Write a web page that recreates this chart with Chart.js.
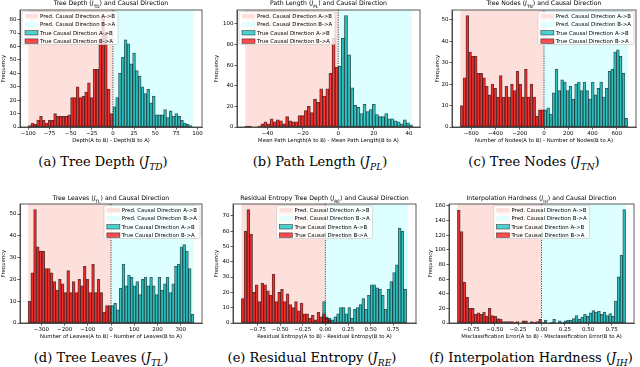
<!DOCTYPE html>
<html>
<head>
<meta charset="utf-8">
<script src="https://cdn.jsdelivr.net/npm/chart.js@4.4.0/dist/chart.umd.min.js"></script>
<style>
body { margin: 0; width: 640px; height: 367px; position: relative; background: #fff; overflow: hidden; font-family: "DejaVu Sans"; }
canvas { position: absolute; }
.ttl { position: absolute; font-size: 6.2px; white-space: nowrap; transform: translate(-50%, -50%); color: #000; }
.ttl sub { font-size: 70%; }
.cap { position: absolute; font-family: "DejaVu Serif"; font-size: 13px; white-space: nowrap; transform: translate(-50%, -50%); color: #000; }
.cap sub { font-size: 70%; font-style: italic; }
</style>
</head>
<body>
<script>
// (a) tree depth histogram
var depthBin = 3.3333, depthRedFrom = -100, depthCyanFrom = 0;
var depthRed = [1, 3, 2, 5, 8, 5, 3, 5, 5, 10, 8, 8, 8, 8, 9, 22, 22, 30, 22, 23, 26, 33, 22, 43, 43, 65, 83, 70, 28, 10];
var depthCyan = [15, 22, 40, 52, 65, 62, 47, 55, 42, 38, 30, 25, 28, 18, 23, 9, 9, 9, 13, 7, 12, 8, 10, 8, 5, 3, 2, 1];
var depthSpan = [-100, 95.5];
var depthXRange = [-109.8, 105.3];
var depthXTicks = [-100, -75, -50, -25, 0, 25, 50, 75, 100];
var depthYTicks = [0, 10, 20, 30, 40, 50, 60, 70, 80];
var depthYMax = 87.2;

// (b) path length
var pathBin = 1.75, pathRedFrom = -52.5, pathCyanFrom = 0;
var pathRed = [1, 1, 0, 0, 1, 3, 5, 3, 8, 5, 7, 6, 3, 10, 6, 5, 5, 11, 11, 16, 20, 14, 27, 24, 37, 30, 37, 52, 86, 58];
var pathCyan = [59, 86, 108, 70, 38, 21, 19, 13, 22, 15, 17, 22, 12, 10, 10, 13, 8, 8, 6, 5, 3, 7, 4, 2];
var pathSpan = [-52.5, 41.5];
var pathXRange = [-57.2, 46.2];
var pathXTicks = [-40, -20, 0, 20, 40];
var pathYTicks = [0, 20, 40, 60, 80, 100];
var pathYMax = 113.4;

// (c) tree nodes
var nodesBin = 23, nodesRedFrom = -690, nodesCyanFrom = 0;
var nodesRed = [10, 23, 52, 35, 33, 33, 25, 25, 23, 19, 15, 20, 18, 14, 24, 14, 19, 14, 20, 17, 26, 20, 14, 27, 14, 20, 14, 5, 8, 8];
var nodesCyan = [8, 9, 6, 16, 27, 17, 22, 21, 17, 19, 13, 20, 21, 17, 21, 17, 13, 21, 15, 18, 21, 14, 18, 26, 27, 35, 36, 33, 25, 4];
var nodesSpan = [-690, 690];
var nodesXRange = [-759, 759];
var nodesXTicks = [-600, -400, -200, 0, 200, 400, 600];
var nodesYTicks = [0, 10, 20, 30, 40, 50];
var nodesYMax = 54.6;

// (d) tree leaves
var leavesBin = 11.9, leavesRedFrom = -357, leavesCyanFrom = 0;
var leavesRed = [10, 23, 52, 35, 33, 33, 25, 25, 23, 19, 15, 20, 18, 14, 24, 14, 19, 14, 20, 17, 26, 20, 14, 27, 14, 20, 14, 5, 8, 8];
var leavesCyan = [8, 9, 6, 16, 27, 17, 22, 21, 17, 19, 13, 20, 21, 17, 21, 17, 13, 21, 15, 18, 21, 14, 18, 26, 27, 35, 36, 33, 25, 4];
var leavesSpan = [-357, 357];
var leavesXRange = [-392, 392];
var leavesXTicks = [-300, -200, -100, 0, 100, 200, 300];
var leavesYTicks = [0, 10, 20, 30, 40, 50];
var leavesYMax = 54.6;

// (e) residual entropy
var entropyBin = 0.031, entropyRedFrom = -0.93, entropyCyanFrom = -0.031;
var entropyRed = [16, 60, 74, 58, 20, 25, 14, 26, 25, 21, 18, 32, 14, 20, 22, 14, 19, 12, 10, 14, 8, 13, 6, 6, 3, 5, 2, 7, 4, 6, 3, 2];
var entropyCyan = [14, 4, 3, 2, 4, 6, 10, 10, 6, 10, 3, 9, 10, 12, 16, 9, 18, 25, 25, 23, 22, 18, 9, 22, 27, 33, 38, 62, 60, 22];
var entropySpan = [-0.93, 0.91];
var entropyXRange = [-1.022, 1.002];
var entropyXTicks = [-0.75, -0.5, -0.25, 0, 0.25, 0.5, 0.75];
var entropyYTicks = [0, 10, 20, 30, 40, 50, 60, 70];
var entropyYMax = 77.7;

// (f) interpolation hardness
var hardBin = 0.03, hardRedFrom = -0.9, hardCyanFrom = 0;
var hardRed = [154, 125, 56, 35, 20, 20, 12, 14, 12, 15, 9, 20, 10, 9, 6, 5, 2, 2, 2, 2, 1, 2, 0, 3, 3, 0, 2, 1, 2, 5];
var hardCyan = [1, 4, 0, 1, 5, 0, 3, 1, 3, 4, 4, 6, 10, 5, 8, 12, 9, 14, 17, 15, 16, 12, 15, 10, 13, 9, 30, 63, 93, 155];
var hardSpan = [-0.9, 0.9];
var hardXRange = [-0.99, 0.99];
var hardXTicks = [-0.75, -0.5, -0.25, 0, 0.25, 0.5, 0.75];
var hardYTicks = [0, 20, 40, 60, 80, 100, 120, 140, 160];
var hardYMax = 162.7;

var legendLabels = ['Pred. Causal Direction A->B', 'Pred. Causal Direction B->A', 'True Causal Direction A->B', 'True Causal Direction B->A'];

var predAB = 'rgb(253, 224, 220)';
var predBA = 'rgb(221, 255, 255)';
var trueAB = 'rgba(0, 191, 191, 0.7)';
var trueBA = 'rgba(255, 0, 0, 0.7)';
var edge = 'rgba(0, 0, 0, 0.7)';
var axisCol = '#333';
var FONT = '"DejaVu Sans"';

var panels = [
    { name: 'Tree Depth', sub: 'TD', tag: '(a)', xTitle: 'Depth(A to B) - Depth(B to A)',
      red: depthRed, cyan: depthCyan, bin: depthBin, redFrom: depthRedFrom, cyanFrom: depthCyanFrom,
      span: depthSpan, xRange: depthXRange, xTicks: depthXTicks, yTicks: depthYTicks, yMax: depthYMax, dec: 0,
      box: [0, 0, 212, 144], area: [20, 10, 202, 127], legend: 'left', cap: [103, 163] },
    { name: 'Path Length', sub: 'PL', tag: '(b)', xTitle: 'Mean Path Length(A to B) - Mean Path Length(B to A)',
      red: pathRed, cyan: pathCyan, bin: pathBin, redFrom: pathRedFrom, cyanFrom: pathCyanFrom,
      span: pathSpan, xRange: pathXRange, xTicks: pathXTicks, yTicks: pathYTicks, yMax: pathYMax, dec: 0,
      box: [213, 0, 212, 144], area: [237, 10, 420, 127], legend: 'left', cap: [320, 163] },
    { name: 'Tree Nodes', sub: 'TN', tag: '(c)', xTitle: 'Number of Nodes(A to B) - Number of Nodes(B to A)',
      red: nodesRed, cyan: nodesCyan, bin: nodesBin, redFrom: nodesRedFrom, cyanFrom: nodesCyanFrom,
      span: nodesSpan, xRange: nodesXRange, xTicks: nodesXTicks, yTicks: nodesYTicks, yMax: nodesYMax, dec: 0,
      box: [434, 0, 206, 144], area: [452, 10, 636, 127], legend: 'right', cap: [534, 163] },
    { name: 'Tree Leaves', sub: 'TL', tag: '(d)', xTitle: 'Number of Leaves(A to B) - Number of Leaves(B to A)',
      red: leavesRed, cyan: leavesCyan, bin: leavesBin, redFrom: leavesRedFrom, cyanFrom: leavesCyanFrom,
      span: leavesSpan, xRange: leavesXRange, xTicks: leavesXTicks, yTicks: leavesYTicks, yMax: leavesYMax, dec: 0,
      box: [0, 190, 212, 150], area: [20, 204, 202, 323], legend: 'right', cap: [101, 359] },
    { name: 'Residual Entropy Tree Depth', capName: 'Residual Entropy', sub: 'RE', tag: '(e)', xTitle: 'Residual Entropy(A to B) - Residual Entropy(B to A)',
      red: entropyRed, cyan: entropyCyan, bin: entropyBin, redFrom: entropyRedFrom, cyanFrom: entropyCyanFrom,
      span: entropySpan, xRange: entropyXRange, xTicks: entropyXTicks, yTicks: entropyYTicks, yMax: entropyYMax, dec: 2,
      box: [213, 190, 212, 150], area: [233, 204, 416, 323], legend: 'center', cap: [312, 359] },
    { name: 'Interpolation Hardness', sub: 'IH', tag: '(f)', xTitle: 'Misclassification Error(A to B) - Misclassification Error(B to A)',
      red: hardRed, cyan: hardCyan, bin: hardBin, redFrom: hardRedFrom, cyanFrom: hardCyanFrom,
      span: hardSpan, xRange: hardXRange, xTicks: hardXTicks, yTicks: hardYTicks, yMax: hardYMax, dec: 2,
      box: [427, 190, 213, 150], area: [449, 204, 634, 323], legend: 'center', cap: [531, 359] }
];

function toPoints(heights, from, bin) {
    return heights.map(function(h, i) { return { x: from + (i + 0.5) * bin, y: h }; });
}

function tickFmt(dec) {
    return function(v) {
        var s = Math.abs(v).toFixed(dec);
        return (v < -1e-9 ? '\u2212' : '') + s;
    };
}

function drawLegend(c, a, mode) {
    c.save();
    c.font = '5.4px ' + FONT;
    var tw = 0;
    legendLabels.forEach(function(t) { tw = Math.max(tw, c.measureText(t).width); });
    var bw = tw + 21, bh = 33;
    var x = mode === 'left' ? a.left + 2 : mode === 'right' ? a.right - 2 - bw : (a.left + a.right) / 2 - bw / 2;
    var y = a.top + 1.5;
    c.fillStyle = 'rgba(255,255,255,0.8)';
    c.strokeStyle = '#cccccc';
    c.lineWidth = 0.7;
    c.beginPath();
    c.roundRect(x, y, bw, bh, 1.5);
    c.fill();
    c.stroke();
    var fills = [predAB, predBA, trueAB, trueBA];
    for (var i = 0; i < 4; i++) {
        var cy = y + 4.7 + i * 8.3;
        c.fillStyle = fills[i];
        c.fillRect(x + 3, cy - 2.2, 13, 4.4);
        if (i > 1) {
            c.strokeStyle = edge;
            c.lineWidth = 0.6;
            c.strokeRect(x + 3, cy - 2.2, 13, 4.4);
        }
        c.fillStyle = '#000';
        c.textBaseline = 'middle';
        c.fillText(legendLabels[i], x + 18, cy + 0.3);
    }
    c.restore();
}

function decor(p) {
    return {
        id: 'decor',
        beforeDatasetsDraw: function(chart) {
            var c = chart.ctx, a = chart.chartArea, xs = chart.scales.x;
            var x0 = xs.getPixelForValue(p.span[0]), xz = xs.getPixelForValue(0), x1 = xs.getPixelForValue(p.span[1]);
            c.save();
            c.fillStyle = predAB;
            c.fillRect(x0, a.top, xz - x0, a.bottom - a.top);
            c.fillStyle = predBA;
            c.fillRect(xz, a.top, x1 - xz, a.bottom - a.top);
            c.restore();
        },
        afterDatasetsDraw: function(chart) {
            var c = chart.ctx, a = chart.chartArea, xs = chart.scales.x;
            var xz = xs.getPixelForValue(0);
            c.save();
            c.strokeStyle = '#222';
            c.lineWidth = 0.8;
            c.setLineDash([1.2, 1.2]);
            c.beginPath();
            c.moveTo(xz, a.top);
            c.lineTo(xz, a.bottom);
            c.stroke();
            c.restore();
            drawLegend(c, a, p.legend);
            c.save();
            c.strokeStyle = axisCol;
            c.lineWidth = 0.8;
            c.strokeRect(a.left, a.top, a.right - a.left, a.bottom - a.top);
            c.restore();
        }
    };
}

function addText(cls, html, x, y) {
    var d = document.createElement('div');
    d.className = cls;
    d.innerHTML = html;
    d.style.left = x + 'px';
    d.style.top = y + 'px';
    document.body.appendChild(d);
}

panels.forEach(function(p) {
    var box = p.box, area = p.area;
    var cv = document.createElement('canvas');
    cv.width = box[2];
    cv.height = box[3];
    cv.style.left = box[0] + 'px';
    cv.style.top = box[1] + 'px';
    cv.style.width = box[2] + 'px';
    cv.style.height = box[3] + 'px';
    document.body.appendChild(cv);

    var yWidth = area[0] - box[0];
    var xHeight = box[1] + box[3] - area[3];
    var tickFont = { family: FONT, size: 5.5 };
    var titleFont = { family: FONT, size: 5.3 };

    new Chart(cv.getContext('2d'), {
        type: 'bar',
        data: {
            datasets: [
                { label: legendLabels[3], data: toPoints(p.red, p.redFrom, p.bin),
                  backgroundColor: trueBA, borderColor: edge, borderWidth: 0.7, borderSkipped: false,
                  barPercentage: 1, categoryPercentage: 1, grouped: false },
                { label: legendLabels[2], data: toPoints(p.cyan, p.cyanFrom, p.bin),
                  backgroundColor: trueAB, borderColor: edge, borderWidth: 0.7, borderSkipped: false,
                  barPercentage: 1, categoryPercentage: 1, grouped: false }
            ]
        },
        options: {
            responsive: false,
            animation: false,
            devicePixelRatio: 1,
            layout: { padding: { left: 0, top: area[1] - box[1], right: box[0] + box[2] - area[2], bottom: 0 } },
            plugins: { legend: { display: false }, tooltip: { enabled: false } },
            scales: {
                x: {
                    type: 'linear', min: p.xRange[0], max: p.xRange[1], offset: false,
                    grid: { drawOnChartArea: false, offset: false, tickLength: 2.5, color: axisCol, lineWidth: 0.8 },
                    border: { color: axisCol, width: 0.8 },
                    ticks: { font: tickFont, color: '#000', padding: 1, maxRotation: 0, autoSkip: false, callback: tickFmt(p.dec) },
                    title: { display: true, text: p.xTitle, font: titleFont, color: '#000', padding: 0 },
                    afterBuildTicks: function(s) { s.ticks = p.xTicks.map(function(v) { return { value: v }; }); },
                    afterFit: function(s) { s.height = xHeight; }
                },
                y: {
                    min: 0, max: p.yMax,
                    grid: { drawOnChartArea: false, tickLength: 2.5, color: axisCol, lineWidth: 0.8 },
                    border: { color: axisCol, width: 0.8 },
                    ticks: { font: tickFont, color: '#000', padding: 1, autoSkip: false, callback: tickFmt(0) },
                    title: { display: true, text: 'Frequency', font: titleFont, color: '#000', padding: 0 },
                    afterBuildTicks: function(s) { s.ticks = p.yTicks.map(function(v) { return { value: v }; }); },
                    afterFit: function(s) { s.width = yWidth; }
                }
            }
        },
        plugins: [decor(p)]
    });

    var cx = (area[0] + area[2]) / 2;
    var ty = box[1] === 0 ? 3.5 : 198.5;
    addText('ttl', p.name + ' (<i>J</i><sub>' + p.sub + '</sub>) and Causal Direction', cx, ty);
    addText('cap', p.tag + ' ' + (p.capName || p.name) + ' (<i>J</i><sub>' + p.sub + '</sub>)', p.cap[0], p.cap[1]);
});
</script>
</body>
</html>
